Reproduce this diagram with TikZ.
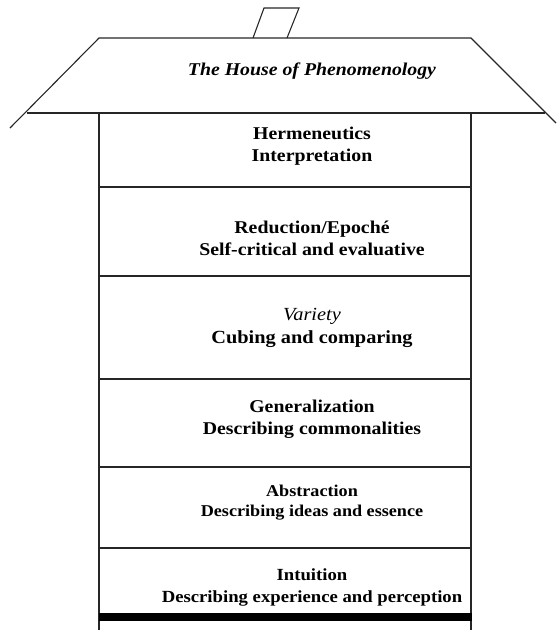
\documentclass[tikz,border=0pt]{standalone}
\usepackage{fontspec}
\setmainfont{Liberation Serif}
\usepackage{tikz}

\newcommand{\widen}[1]{\scalebox{1.1}[1]{#1}}

\tikzset{
  wall/.style={draw=black!85,line width=1.1pt},
  floor/.style={font=\bfseries\fontsize{18}{22}\selectfont,align=center,inner sep=0pt},
}

\begin{document}
\begin{tikzpicture}[x=1pt,y=-1pt]

\useasboundingbox (0,0) rectangle (558,630);

%roof
\path[wall] (10,128) -- (99,38) -- (471,38) -- (556,123);
\path[wall] (27,113) -- (545,113);
\path[wall] (253,38) -- (264,8) -- (299,8) -- (287,38);
\node[font=\bfseries\itshape\fontsize{18}{20}\selectfont] (title) at (312,71) {\widen{The House of Phenomenology}};

%walls
\path[wall] (99,113) -- (99,630);
\path[wall] (471,113) -- (471,630);

%floors
\path[wall] (99,187) -- (471,187);
\path[wall] (99,276) -- (471,276);
\path[wall] (99,379) -- (471,379);
\path[wall] (99,467) -- (471,467);
\path[wall] (99,548) -- (471,548);
\path[draw=black,fill=black] (99,613) rectangle (471,620);

%f6
\node[floor] (herm) at (312,146) {\widen{Hermeneutics}\\\widen{Interpretation}};

%f5
\node[floor] (red) at (312,238) {\widen{Reduction/Epoché}\\\widen{Self-critical and evaluative}};

%f4
\node[floor,font=\bfseries\fontsize{18.5}{23}\selectfont] (var) at (312,328) {\widen{\mdseries\itshape Variety}\\\widen{Cubing and comparing}};

%f3
\node[floor] (gen) at (312,419) {\widen{Generalization}\\\widen{Describing commonalities}};

%f2
\node[floor,font=\bfseries\fontsize{16.5}{20}\selectfont] (abs) at (312,503) {\widen{Abstraction}\\\widen{Describing ideas and essence}};

%f1
\node[floor,font=\bfseries\fontsize{17}{22}\selectfont] (int) at (312,587) {\widen{Intuition}\\\widen{Describing experience and perception}};

\end{tikzpicture}
\end{document}
